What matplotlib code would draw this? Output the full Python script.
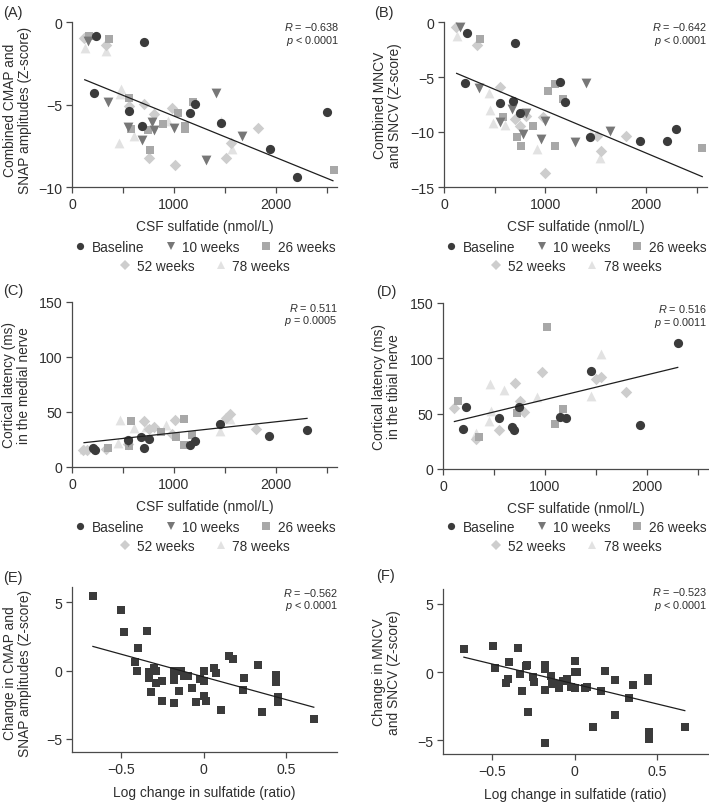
import numpy as np
import matplotlib
matplotlib.use("Agg")
import matplotlib.pyplot as plt
from matplotlib.lines import Line2D

plt.rcParams['font.family'] = ['Liberation Sans', 'DejaVu Sans']
plt.rcParams['mathtext.fontset'] = 'custom'
plt.rcParams['mathtext.it'] = 'Liberation Sans:italic'
plt.rcParams['mathtext.rm'] = 'Liberation Sans'

# ---- data ----
groups = ['Baseline', '10 weeks', '26 weeks', '52 weeks', '78 weeks']

# panel A
base_x_A = [237, 711, 211, 556, 684, 1158, 1211, 1461, 1947, 2211, 2500]
base_y_A = [-0.85, -1.21, -4.28, -5.39, -6.32, -5.49, -4.95, -6.14, -7.72, -9.39, -5.45]
w10_x_A = [161, 355, 553, 688, 786, 809, 1000, 1316, 1411, 1664]
w10_y_A = [-1.13, -4.83, -6.36, -7.17, -6.04, -6.57, -6.44, -8.38, -4.30, -6.93]
w26_x_A = [171, 362, 559, 582, 747, 770, 891, 1039, 1109, 1109, 1191, 2569]
w26_y_A = [-0.87, -1.05, -4.59, -6.48, -6.55, -7.76, -6.18, -5.49, -6.28, -6.48, -4.85, -8.95]
w52_x_A = [118, 336, 559, 711, 809, 760, 977, 1007, 1559, 1513, 1822]
w52_y_A = [-0.97, -1.39, -5.09, -4.95, -5.58, -8.24, -5.23, -8.65, -7.33, -8.24, -6.42]
w78_x_A = [132, 336, 484, 474, 457, 605, 944, 1461, 1566]
w78_y_A = [-1.56, -1.78, -4.06, -4.38, -7.33, -6.89, -6.0, -6.0, -7.72]
fit_x_A = [125, 2560]
fit_y_A = [-3.5, -9.62]

# panel B
base_x_B = [230, 704, 204, 553, 678, 750, 1151, 1194, 1447, 1934, 2204, 2296]
base_y_B = [-0.97, -1.91, -5.52, -7.39, -7.21, -8.3, -5.42, -7.27, -10.45, -10.85, -10.82, -9.7]
w10_x_B = [158, 345, 553, 674, 780, 806, 997, 954, 1299, 1405, 1645]
w10_y_B = [-0.42, -6.03, -9.09, -7.94, -10.15, -8.24, -9.0, -10.6, -10.88, -5.58, -9.91]
w26_x_B = [355, 582, 720, 757, 878, 1026, 1099, 1181, 1095, 2553]
w26_y_B = [-1.58, -8.64, -10.48, -11.3, -9.48, -6.24, -5.64, -7.03, -11.3, -11.45]
w52_x_B = [118, 322, 549, 697, 747, 806, 974, 1003, 1513, 1556, 1799]
w52_y_B = [-0.42, -2.12, -5.94, -8.85, -9.48, -8.55, -8.6, -13.7, -10.36, -11.76, -10.36]
w78_x_B = [125, 444, 454, 480, 599, 921, 1457, 1546]
w78_y_B = [-1.27, -6.42, -8.0, -9.15, -9.36, -11.58, -10.06, -12.33]
fit_x_B = [125, 2553]
fit_y_B = [-4.67, -14.06]

# panel C
base_x_C = [204, 227, 553, 678, 704, 753, 1158, 1204, 1454, 1931, 2306]
base_y_C = [17.6, 15.5, 24.2, 27.0, 17.6, 25.8, 20.3, 23.3, 38.8, 28.5, 33.9]
w10_x_C = [553]
w10_y_C = [22.5]
w26_x_C = [349, 556, 579, 878, 1023, 1102, 1102, 1181]
w26_y_C = [17.6, 18.8, 41.5, 31.8, 27.3, 43.9, 20.3, 29.1]
w52_x_C = [105, 148, 329, 553, 704, 753, 803, 977, 1007, 1513, 1553, 1809]
w52_y_C = [15.5, 15.8, 16.7, 20.6, 41.5, 34.2, 36.7, 29.7, 42.4, 44.8, 48.2, 34.8]
w78_x_C = [122, 467, 454, 605, 727, 924, 1454, 1553]
w78_y_C = [16.7, 42.4, 21.5, 35.8, 36.4, 38.5, 32.4, 43.3]
fit_x_C = [118, 2306]
fit_y_C = [22.1, 44.2]

# panel D
base_x_D = [227, 201, 546, 674, 701, 743, 1148, 1204, 1454, 1934, 2303]
base_y_D = [56.4, 36.2, 45.9, 37.7, 35.0, 55.8, 47.4, 46.5, 88.5, 39.8, 113.5]
w10_x_D = []
w10_y_D = []
w26_x_D = [151, 352, 724, 1023, 1102, 1181]
w26_y_D = [61.3, 29.3, 50.7, 128.3, 41.0, 54.6]
w52_x_D = [112, 322, 546, 704, 753, 799, 967, 1500, 1553, 1799]
w52_y_D = [55.2, 27.5, 35.3, 77.6, 61.6, 51.9, 87.5, 81.2, 83.0, 69.7]
w78_x_D = [322, 457, 447, 471, 599, 921, 1454, 1553]
w78_y_D = [32.6, 76.4, 43.8, 52.8, 71.2, 65.2, 66.1, 103.5]
fit_x_D = [112, 2303]
fit_y_D = [42.9, 91.8]

# panel E
chg_x_E = [-0.673, -0.502, -0.486, -0.347, -0.4, -0.42, -0.408, -0.335, -0.335, -0.335,
           -0.302, -0.29, -0.29, -0.322, -0.253, -0.253, -0.18, -0.18, -0.18, -0.18,
           -0.135, -0.122, -0.098, -0.147, -0.073, -0.049, -0.024, 0.0, 0.004, 0.0,
           0.016, 0.065, 0.073, 0.106, 0.155, 0.18, 0.245, 0.241, 0.331, 0.355,
           0.441, 0.441, 0.453, 0.453, 0.669]
chg_y_E = [5.41, 4.44, 2.85, 2.90, 1.66, 0.61, 0.0, -0.12, -0.44, -0.54,
           0.17, -0.07, -0.88, -1.54, -0.73, -2.2, -0.02, -0.39, -0.68, -2.39,
           0.0, -0.41, -0.39, -1.46, -1.27, -2.29, -0.63, 0.0, -0.73, -1.83,
           -2.2, 0.2, -0.2, -2.88, 1.07, 0.85, -0.54, -1.39, 0.44, -3.05,
           -0.34, -0.85, -1.9, -2.29, -3.51]
fit_x_E = [-0.673, 0.669]
fit_y_E = [1.76, -2.68]

# panel F
chg_x_F = [-0.673, -0.498, -0.486, -0.396, -0.408, -0.418, -0.343, -0.335, -0.32, -0.298,
           -0.29, -0.286, -0.255, -0.249, -0.178, -0.178, -0.178, -0.178, -0.143, -0.135,
           -0.098, -0.11, -0.071, -0.049, -0.02, 0.002, 0.0, 0.016, 0.004, 0.061,
           0.073, 0.11, 0.159, 0.184, 0.245, 0.243, 0.333, 0.355, 0.445, 0.445,
           0.453, 0.453, 0.669]
chg_y_F = [1.69, 1.94, 0.32, 0.74, -0.47, -0.76, 1.76, -0.12, -1.4, 0.47,
           0.56, -2.89, -0.32, -0.69, 0.51, 0.27, -1.27, -5.2, -0.27, -0.86,
           -1.15, -0.86, -0.61, -0.47, -1.1, 0.81, 0.0, 0.05, -1.15, -1.15,
           -1.1, -4.0, -1.37, 0.12, -0.54, -3.16, -1.86, -0.91, -0.42, -0.64,
           -4.41, -4.9, -4.04]
fit_x_F = [-0.673, 0.669]
fit_y_F = [1.10, -2.82]

stats = {'A': ('\u22120.638', '< 0.0001'), 'B': ('\u22120.642', '< 0.0001'),
         'C': ('0.511', '= 0.0005'), 'D': ('0.516', '= 0.0011'),
         'E': ('\u22120.562', '< 0.0001'), 'F': ('\u22120.523', '< 0.0001')}

# ---- styles ----
colors = ['#3b3b3b', '#777777', '#a8a8a8', '#cdcdcd', '#e2e2e2']
markers = ['o', 'v', 's', 'D', '^']
sizes = [44, 50, 38, 34, 50]
spine_c = '#4a4a4a'
text_c = '#2e2e2e'
lab_fs = 9.9

W, H = 709, 803
fig = plt.figure(figsize=(W / 100, H / 100), dpi=100)


def ax_at(left, top, right, bottom):
    return fig.add_axes([left / W, 1 - bottom / H, (right - left) / W, (bottom - top) / H])


def style(ax):
    for s in ['top', 'right']:
        ax.spines[s].set_visible(False)
    for s in ['left', 'bottom']:
        ax.spines[s].set_color(spine_c)
        ax.spines[s].set_linewidth(0.9)
    ax.tick_params(direction='out', length=4, width=0.9, color=spine_c,
                   labelsize=10.2, labelcolor=text_c, pad=3)
    ax.patch.set_alpha(0)


def group_scatter(ax, xs, ys):
    order = [4, 3, 2, 1, 0]
    for i in order:
        if len(xs[i]) == 0:
            continue
        ax.scatter(xs[i], ys[i], s=sizes[i], marker=markers[i], color=colors[i],
                   linewidths=0, zorder=2 + (4 - i) * 0.1)


def sulfatide_axis(ax):
    ax.set_xlim(0, 2600)
    ax.set_xticks(np.arange(0, 2501, 500))
    ax.set_xticklabels(['0', '', '1000', '', '2000', ''])
    ax.set_xlabel('CSF sulfatide (nmol/L)', fontsize=lab_fs, color=text_c, labelpad=6)


def legend_rows(ax, cx, y1, y2):
    hs = [Line2D([], [], ls='none', marker=markers[i], color=colors[i], markersize=5.2,
                 markeredgewidth=0) for i in range(5)]
    kw = dict(frameon=False, fontsize=9.8, handlelength=0.8, handletextpad=0.45,
              columnspacing=1.55, borderpad=0, loc='center', bbox_transform=fig.transFigure,
              labelcolor=text_c)
    l1 = ax.legend(hs[:3], groups[:3], ncol=3, bbox_to_anchor=(cx / W, 1 - y1 / H), **kw)
    ax.add_artist(l1)
    ax.legend(hs[3:], groups[3:], ncol=2, bbox_to_anchor=(cx / W, 1 - y2 / H), **kw)


def annotate(key, xr, y1, y2):
    r, p = stats[key]
    fig.text(xr / W, 1 - y1 / H, r'$R$ = ' + r, ha='right', va='center', fontsize=7.8, color=text_c)
    fig.text(xr / W, 1 - y2 / H, r'$p$ ' + p, ha='right', va='center', fontsize=7.8, color=text_c)


def fit_line(ax, fx, fy):
    ax.plot(fx, fy, color='#1e1e1e', lw=0.9, zorder=3)


def set_ylab(ax, text, xc, yc):
    ax.set_ylabel(text, fontsize=lab_fs, color=text_c, linespacing=1.05)
    ax.yaxis.set_label_coords(xc, yc)


# ---- panel A ----
axA = ax_at(72, 23, 337, 188)
style(axA)
group_scatter(axA, [base_x_A, w10_x_A, w26_x_A, w52_x_A, w78_x_A],
              [base_y_A, w10_y_A, w26_y_A, w52_y_A, w78_y_A])
fit_line(axA, fit_x_A, fit_y_A)
sulfatide_axis(axA)
axA.set_ylim(-10, 0)
axA.set_yticks([-10, -5, 0])
axA.set_yticklabels(['\u221210', '\u22125', '0'])
set_ylab(axA, 'Combined CMAP and\nSNAP amplitudes (Z-score)', -0.152, 0.47)
legend_rows(axA, 205, 248, 267)
annotate('A', 339, 27, 41)

# ---- panel B ----
axB = ax_at(444, 23, 707, 188)
style(axB)
group_scatter(axB, [base_x_B, w10_x_B, w26_x_B, w52_x_B, w78_x_B],
              [base_y_B, w10_y_B, w26_y_B, w52_y_B, w78_y_B])
fit_line(axB, fit_x_B, fit_y_B)
sulfatide_axis(axB)
axB.set_ylim(-15, 0)
axB.set_yticks([-15, -10, -5, 0])
axB.set_yticklabels(['\u221215', '\u221210', '\u22125', '0'])
set_ylab(axB, 'Combined MNCV\nand SNCV (Z-score)', -0.16, 0.5)
legend_rows(axB, 576, 248, 267)
annotate('B', 707, 27, 41)

# ---- panel C ----
axC = ax_at(72, 303, 337, 468)
style(axC)
group_scatter(axC, [base_x_C, w10_x_C, w26_x_C, w52_x_C, w78_x_C],
              [base_y_C, w10_y_C, w26_y_C, w52_y_C, w78_y_C])
fit_line(axC, fit_x_C, fit_y_C)
sulfatide_axis(axC)
axC.set_ylim(0, 150)
axC.set_yticks([0, 50, 100, 150])
set_ylab(axC, 'Cortical latency (ms)\nin the medial nerve', -0.155, 0.5)
legend_rows(axC, 205, 528, 547)
annotate('C', 338, 308, 321)

# ---- panel D ----
axD = ax_at(443, 304, 708, 470)
style(axD)
group_scatter(axD, [base_x_D, w10_x_D, w26_x_D, w52_x_D, w78_x_D],
              [base_y_D, w10_y_D, w26_y_D, w52_y_D, w78_y_D])
fit_line(axD, fit_x_D, fit_y_D)
sulfatide_axis(axD)
axD.set_ylim(0, 150)
axD.set_yticks([0, 50, 100, 150])
set_ylab(axD, 'Cortical latency (ms)\nin the tibial nerve', -0.16, 0.5)
legend_rows(axD, 576, 528, 547)
annotate('D', 707, 309, 323)

# ---- panel E ----
axE = ax_at(72, 588, 337, 753)
style(axE)
axE.scatter(chg_x_E, chg_y_E, s=30, marker='s', color='#3b3b3b', linewidths=0, zorder=2)
fit_line(axE, fit_x_E, fit_y_E)
axE.set_xlim(-0.8, 0.81)
axE.set_ylim(-5.95, 6.1)
axE.set_xticks([-0.5, 0, 0.5])
axE.set_xticklabels(['\u22120.5', '0', '0.5'])
axE.set_yticks([-5, 0, 5])
axE.set_yticklabels(['\u22125', '0', '5'])
axE.set_xlabel('Log change in sulfatide (ratio)', fontsize=lab_fs, color=text_c, labelpad=6.5)
set_ylab(axE, 'Change in CMAP and\nSNAP amplitudes (Z-score)', -0.152, 0.485)
annotate('E', 338, 593, 606)

# ---- panel F ----
axF = ax_at(443, 590, 708, 755)
style(axF)
axF.scatter(chg_x_F, chg_y_F, s=30, marker='s', color='#3b3b3b', linewidths=0, zorder=2)
fit_line(axF, fit_x_F, fit_y_F)
axF.set_xlim(-0.8, 0.81)
axF.set_ylim(-6.0, 6.1)
axF.set_xticks([-0.5, 0, 0.5])
axF.set_xticklabels(['\u22120.5', '0', '0.5'])
axF.set_yticks([-5, 0, 5])
axF.set_yticklabels(['\u22125', '0', '5'])
axF.set_xlabel('Log change in sulfatide (ratio)', fontsize=lab_fs, color=text_c, labelpad=6.5)
set_ylab(axF, 'Change in MNCV\nand SNCV (Z-score)', -0.16, 0.5)
annotate('F', 707, 592, 606)

# panel letters
for lab, x, y in [('(A)', 3, 13), ('(B)', 374, 13), ('(C)', 3, 291),
                  ('(D)', 376, 292), ('(E)', 3, 578), ('(F)', 376, 576)]:
    fig.text(x / W, 1 - y / H, lab, ha='left', va='center', fontsize=10.5, color=text_c)

fig.savefig('out.png', dpi=100)
